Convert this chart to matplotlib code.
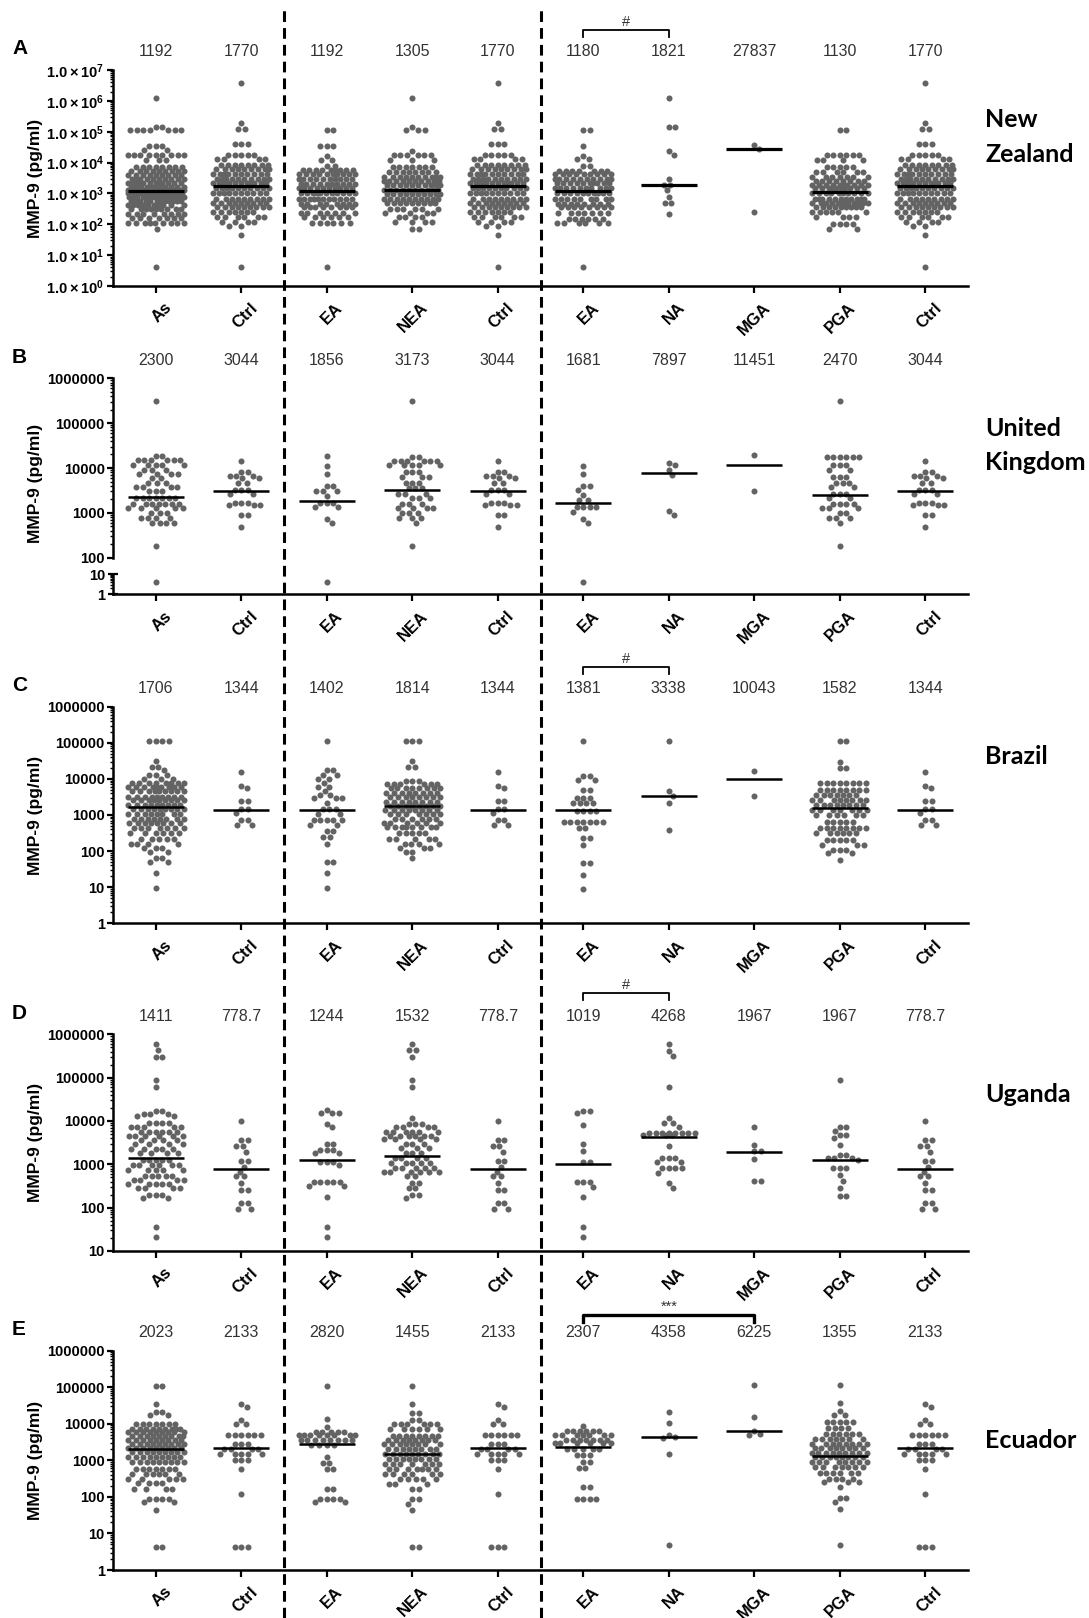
import numpy as np
import matplotlib
matplotlib.use('Agg')
import matplotlib.pyplot as plt
from matplotlib.lines import Line2D
from matplotlib import transforms as mtransforms
from matplotlib.ticker import LogLocator, NullFormatter

plt.rcParams['font.family'] = ['Liberation Sans', 'DejaVu Sans']
plt.rcParams['mathtext.fontset'] = 'custom'
plt.rcParams['mathtext.rm'] = 'Liberation Sans'
plt.rcParams['mathtext.bf'] = 'Liberation Sans:bold'

groups = ['As', 'Ctrl', 'EA', 'NEA', 'Ctrl', 'EA', 'NA', 'MGA', 'PGA', 'Ctrl']

# --- A: New Zealand
nz_as = [(1.2e6, 1), (1.38e5, 2), (1.12e5, 7), (3.5e4, 3), (2.6e4, 2), (1.78e4, 9), (1.2e4, 3),
         (7100, 8), (5200, 9), (4000, 9), (3000, 10), (2250, 11), (1650, 12), (1250, 14), (1000, 16),
         (760, 14), (560, 12), (420, 10), (320, 9), (220, 8), (160, 7), (110, 9), (70, 1), (4, 1)]
nz_ctrl = [(3.7e6, 1), (1.9e5, 1), (1.26e5, 2), (4.0e4, 3), (1.78e4, 5), (1.26e4, 4), (8300, 8),
           (6000, 9), (4300, 10), (2900, 10), (2100, 11), (1450, 10), (1000, 10), (680, 9), (490, 9),
           (350, 9), (250, 7), (174, 6), (117, 4), (89, 2), (44, 1), (4.1, 1)]
nz_ea = [(1.17e5, 2), (3.5e4, 3), (1.58e4, 1), (1.2e4, 2), (7900, 2), (5600, 9), (4200, 10),
         (2900, 10), (2000, 10), (1450, 10), (1000, 11), (680, 11), (470, 8), (350, 8), (234, 7),
         (174, 6), (112, 6), (4.1, 1)]
nz_nea = [(1.2e6, 1), (1.38e5, 1), (1.12e5, 3), (2.3e4, 1), (1.78e4, 6), (1.2e4, 3), (7200, 7),
          (5000, 8), (3500, 10), (2500, 10), (1860, 10), (1320, 10), (930, 10), (680, 10), (490, 9),
          (320, 6), (234, 4), (174, 4), (117, 4), (72, 2)]
nz_ea2 = [(1.17e5, 2), (3.4e4, 1), (1.58e4, 1), (1.26e4, 2), (7600, 2), (5400, 7), (4200, 9),
          (3000, 10), (2100, 10), (1550, 10), (1000, 10), (680, 9), (470, 8), (350, 8), (234, 7),
          (151, 6), (110, 6), (4.1, 1)]
nz_na = [(1.2e6, 1), (1.38e5, 2), (2.4e4, 1), (1.75e4, 1), (3000, 1), (1900, 2), (1250, 1),
         (780, 1), (500, 2), (210, 1)]
nz_mga = [(3.8e4, 1), (2.8e4, 1), (250, 1)]
nz_pga = [(1.12e5, 2), (1.78e4, 6), (1.2e4, 4), (7200, 5), (5000, 6), (3500, 7), (2500, 8),
          (1860, 10), (1450, 10), (1000, 10), (680, 11), (490, 11), (350, 9), (250, 6), (174, 4),
          (105, 4), (72, 2)]

# --- B: United Kingdom
uk_as = [(3.1e5, 1), (1.86e4, 2), (1.5e4, 6), (1.17e4, 5), (9100, 3), (7400, 4), (5900, 2),
         (4600, 3), (3700, 4), (3000, 3), (2100, 7), (1600, 7), (1260, 5), (1000, 3), (760, 4),
         (590, 4), (180, 1), (4, 1)]
uk_ctrl = [(1.45e4, 1), (8300, 2), (6800, 3), (5900, 2), (4700, 2), (3300, 3), (2700, 2),
           (1700, 3), (1480, 3), (900, 2), (490, 1)]
uk_ea = [(1.86e4, 1), (1.1e4, 1), (7400, 1), (4000, 2), (3100, 3), (2400, 1), (1700, 3),
         (1380, 2), (720, 1), (590, 1), (4, 1)]
uk_nea = [(3.1e5, 1), (1.78e4, 2), (1.45e4, 6), (1.17e4, 5), (8300, 3), (6300, 3), (4700, 3),
          (3500, 3), (2700, 3), (2100, 3), (1600, 3), (1260, 4), (1000, 3), (760, 3), (590, 1),
          (180, 1)]
uk_ea2 = [(1.1e4, 1), (7400, 1), (4000, 2), (3200, 1), (2500, 1), (1950, 2), (1380, 4),
          (1070, 1), (720, 1), (590, 1), (4, 1)]
uk_na = [(1.32e4, 1), (1.17e4, 1), (9100, 1), (6900, 1), (1100, 1), (890, 1)]
uk_mga = [(1.9e4, 1), (3000, 1)]
uk_pga = [(3.1e5, 1), (1.78e4, 6), (1.17e4, 3), (9100, 2), (6300, 3), (4700, 3), (3800, 2),
          (2700, 3), (2100, 2), (1600, 4), (1260, 3), (980, 2), (760, 3), (590, 1), (180, 1)]

# --- C: Brazil
br_as = [(1.15e5, 4), (3.2e4, 1), (2.2e4, 2), (1.78e4, 1), (1.26e4, 3), (1.0e4, 3), (7600, 8),
         (5800, 9), (4500, 9), (3200, 9), (2600, 9), (1950, 9), (1450, 9), (1070, 8), (760, 8),
         (590, 8), (430, 7), (310, 6), (220, 5), (160, 4), (120, 3), (95, 2), (63, 2), (51, 2),
         (24, 1), (9.8, 1)]
br_ctrl = [(1.58e4, 1), (6300, 1), (5500, 1), (2500, 2), (1500, 2), (1150, 1), (720, 2), (525, 2)]
br_ea = [(1.15e5, 1), (1.78e4, 2), (1.26e4, 2), (1.0e4, 2), (7600, 1), (6000, 2), (4500, 1),
         (3500, 2), (3000, 3), (2100, 1), (1450, 3), (1070, 2), (720, 5), (525, 2), (360, 2),
         (250, 2), (160, 1), (51, 2), (24, 1), (9.8, 1)]
br_nea = [(1.15e5, 3), (3.2e4, 1), (2.2e4, 2), (8900, 3), (7200, 6), (5500, 8), (4200, 8),
          (3100, 8), (2300, 8), (1800, 8), (1380, 8), (1070, 7), (760, 6), (590, 6), (480, 8),
          (310, 5), (220, 5), (160, 4), (120, 3), (95, 2), (63, 1)]
br_ea2 = [(1.1e5, 1), (1.17e4, 2), (9300, 2), (5000, 2), (3000, 3), (2100, 4), (1260, 4),
          (630, 7), (430, 2), (230, 2), (150, 1), (46, 2), (22, 1), (8.9, 1)]
br_na = [(1.1e5, 1), (4500, 1), (3300, 1), (2100, 1), (390, 1)]
br_mga = [(1.65e4, 1), (3400, 1)]
br_pga = [(1.1e5, 2), (3.0e4, 1), (2.0e4, 2), (7600, 8), (5000, 8), (3600, 7), (2600, 8),
          (1900, 8), (1380, 7), (1000, 6), (660, 5), (430, 8), (320, 6), (200, 5), (150, 3),
          (107, 3), (87, 2), (58, 1)]

# --- D: Uganda
ug_as = [(5.9e5, 1), (4.3e5, 1), (3.0e5, 2), (8.9e4, 1), (6.2e4, 1), (1.74e4, 2), (1.45e4, 3),
         (1.32e4, 2), (8900, 4), (7400, 5), (5600, 6), (4600, 6), (3600, 4), (2950, 4), (2300, 5),
         (1780, 4), (1260, 5), (950, 6), (740, 5), (540, 5), (440, 4), (360, 5), (280, 4),
         (195, 3), (170, 2), (35, 1), (21, 1)]
ug_ctrl = [(1.0e4, 1), (3600, 2), (2600, 2), (1950, 1), (1200, 2), (890, 1), (680, 1), (525, 2),
           (380, 1), (257, 2), (126, 2), (95, 2)]
ug_ea = [(1.78e4, 1), (1.51e4, 3), (8500, 1), (7200, 1), (3000, 2), (2100, 3), (1780, 2),
         (1150, 3), (950, 1), (400, 5), (316, 2), (174, 1), (35, 1), (21, 1)]
ug_nea = [(5.9e5, 1), (4.4e5, 2), (3.0e5, 1), (8.9e4, 1), (6.2e4, 1), (1.15e4, 1), (8500, 3),
          (7400, 4), (5600, 6), (4600, 6), (3800, 4), (2950, 3), (2350, 3), (1780, 3), (1380, 4),
          (1050, 5), (810, 5), (680, 6), (525, 2), (380, 2), (280, 2), (195, 2), (170, 1)]
ug_ea2 = [(1.74e4, 2), (1.55e4, 1), (8100, 1), (3000, 1), (2050, 1), (1120, 2), (400, 3),
          (300, 1), (174, 1), (35, 1), (21, 1)]
ug_na = [(5.9e5, 1), (4.2e5, 1), (3.2e5, 1), (6.2e4, 1), (1.15e4, 1), (8900, 2), (7400, 1),
         (5400, 8), (4800, 3), (2600, 1), (1380, 3), (1150, 2), (810, 4), (620, 1), (363, 1),
         (282, 1)]
ug_mga = [(7100, 1), (2800, 1), (2000, 2), (1320, 1), (417, 2)]
ug_pga = [(8.9e4, 1), (7400, 2), (6000, 1), (4800, 2), (4000, 1), (2800, 1), (1660, 2),
          (1380, 3), (1260, 1), (810, 3), (560, 1), (417, 1), (282, 1), (186, 2)]

# --- E: Ecuador
ec_as = [(1.07e5, 2), (3.4e4, 1), (2.1e4, 2), (1.7e4, 2), (1.0e4, 7), (7400, 9), (6000, 9),
         (4600, 9), (3500, 9), (2750, 9), (2200, 9), (1700, 9), (1230, 9), (890, 9), (590, 7),
         (427, 6), (309, 5), (234, 4), (166, 4), (87, 4), (71, 2), (44, 1), (4.3, 2)]
ec_ctrl = [(3.4e4, 1), (2.9e4, 1), (1.3e4, 1), (1.0e4, 2), (4800, 6), (2800, 3), (2050, 4),
           (1500, 5), (1000, 3), (590, 1), (120, 1), (4.3, 3)]
ec_ea = [(1.07e5, 1), (1.35e4, 1), (8100, 1), (6000, 5), (4800, 8), (3500, 8), (2600, 4),
         (1230, 1), (850, 2), (590, 2), (166, 2), (87, 4), (71, 2)]
ec_nea = [(1.07e5, 1), (3.4e4, 1), (2.0e4, 2), (1.29e4, 2), (1.0e4, 6), (7400, 6), (4600, 8),
          (3500, 8), (2750, 8), (2100, 8), (1500, 9), (1100, 8), (790, 7), (590, 7), (427, 6),
          (309, 5), (229, 3), (166, 2), (87, 2), (63, 1), (44, 1), (4.3, 2)]
ec_ea2 = [(8900, 1), (6200, 6), (4800, 7), (3500, 7), (3000, 6), (2100, 5), (1400, 3),
          (910, 2), (620, 2), (182, 2), (87, 4)]
ec_na = [(2.1e4, 1), (1.07e4, 1), (4900, 1), (4358, 1), (4100, 1), (1480, 1), (4.7, 1)]
ec_mga = [(1.17e5, 1), (1.5e4, 1), (6225, 1), (5100, 1), (4900, 1)]
ec_pga = [(1.17e5, 1), (3.8e4, 1), (2.2e4, 1), (1.78e4, 2), (1.12e4, 5), (7600, 4), (5200, 6),
          (3900, 7), (2800, 8), (2140, 8), (1600, 9), (1200, 8), (890, 8), (650, 7), (447, 6),
          (309, 4), (251, 3), (182, 1), (91, 2), (71, 1), (48, 1), (4.7, 1)]

# medians printed above each column, and the level of the drawn median bar
nz_med = ['1192', '1770', '1192', '1305', '1770', '1180', '1821', '27837', '1130', '1770']
uk_med = ['2300', '3044', '1856', '3173', '3044', '1681', '7897', '11451', '2470', '3044']
br_med = ['1706', '1344', '1402', '1814', '1344', '1381', '3338', '10043', '1582', '1344']
ug_med = ['1411', '778.7', '1244', '1532', '778.7', '1019', '4268', '1967', '1967', '778.7']
ec_med = ['2023', '2133', '2820', '1455', '2133', '2307', '4358', '6225', '1355', '2133']
ug_bar = [1411, 778.7, 1244, 1532, 778.7, 1019, 4268, 1967, 1260, 778.7]

FIG_W, FIG_H = 1089, 1618
DOT = '#636363'

fig = plt.figure(figsize=(FIG_W / 100, FIG_H / 100), dpi=100)


def box(top, bottom):
    return [113 / FIG_W, 1 - bottom / FIG_H, 855 / FIG_W, (bottom - top) / FIG_H]


def expand(rows):
    return np.repeat([v for v, n in rows], [n for v, n in rows]).astype(float)


def swarm(vals, ppd, ppu, dot=6.3, half=28.0):
    # simple beeswarm in pixel space
    ys = np.log10(vals) * ppd
    steps = np.arange(0.5, half + 0.01, 0.5)
    cands = np.concatenate([[0.0], np.column_stack([steps, -steps]).ravel()])
    xs = np.zeros(len(vals))
    px, py = [], []
    for i in np.argsort(-ys, kind='stable'):
        if px:
            dx = cands[:, None] - np.array(px)[None, :]
            dy = (np.array(py) - ys[i])[None, :]
            dmin = np.hypot(dx, dy).min(axis=1)
            ok = np.nonzero(dmin >= dot)[0]
            xs[i] = cands[ok[0]] if len(ok) else cands[np.argmax(dmin)]
        px.append(xs[i])
        py.append(ys[i])
    return xs / ppu


def scales(ax):
    pos = ax.get_position()
    lo, hi = np.log10(ax.get_ylim())
    return pos.height * FIG_H / (hi - lo), pos.width * FIG_W / 10.0


def style(ax, ylim, ticks, labels, xaxis=True):
    ax.set_yscale('log')
    ax.set_xlim(-0.5, 9.5)
    ax.set_ylim(*ylim)
    ax.spines[['top', 'right']].set_visible(False)
    ax.spines['left'].set_linewidth(1.8)
    ax.spines['bottom'].set_linewidth(1.8)
    ax.set_yticks(ticks, labels, fontsize=10.5, fontweight='bold')
    ax.yaxis.set_minor_locator(LogLocator(base=10, subs=np.arange(2, 10), numticks=30))
    ax.yaxis.set_minor_formatter(NullFormatter())
    ax.tick_params(axis='y', which='major', length=4, width=1.6, pad=2)
    ax.tick_params(axis='y', which='minor', length=2.5, width=1.0)
    if xaxis:
        ax.set_xticks(range(10), groups, rotation=45, ha='right', rotation_mode='anchor',
                      fontsize=12, fontweight='bold')
        ax.tick_params(axis='x', length=5, width=1.6, pad=5)
        shift = mtransforms.ScaledTranslation(6 / 72, 0, fig.dpi_scale_trans)
        for lab in ax.get_xticklabels():
            lab.set_transform(lab.get_transform() + shift)
    else:
        ax.spines['bottom'].set_visible(False)
        ax.set_xticks([])


def dots(ax, cols, keep=lambda v: v > 0):
    ppd, ppu = scales(ax)
    for i, rows in enumerate(cols):
        vals = expand(rows)
        vals = vals[keep(vals)]
        if len(vals) == 0:
            continue
        xs = swarm(vals, ppd, ppu)
        ax.scatter(i + xs, vals, s=19, color=DOT, linewidths=0, zorder=3)


def bars(ax, levels, lw):
    for i, m in enumerate(levels):
        ax.plot([i - 0.33, i + 0.33], [m, m], color='black', lw=lw, solid_capstyle='butt', zorder=4)


def header(ax, meds, letter, country, cy, bracket=None):
    top = ax.get_position().y1
    tr = mtransforms.blended_transform_factory(ax.transData, fig.transFigure)
    for i, t in enumerate(meds):
        fig.text(i, top + 18 / FIG_H, t, transform=tr, ha='center', va='center',
                 fontsize=11.5, color='#333333')
    fig.text(12 / FIG_W, top + 21 / FIG_H, letter, ha='left', va='center',
             fontsize=15, fontweight='bold')
    fig.text(985 / FIG_W, 1 - cy / FIG_H, country, ha='left', va='center',
             fontsize=18, fontweight='bold', family=['Lato', 'DejaVu Sans'], linespacing=1.6)
    if bracket:
        a, b, mark, lw, gap = bracket
        yl = top + gap / FIG_H
        yd = yl - 7 / FIG_H
        fig.add_artist(Line2D([a, a, b, b], [yd, yl, yl, yd], transform=tr, color='black', lw=lw))
        fig.text((a + b) / 2, yl + 8 / FIG_H, mark, transform=tr, ha='center', va='center',
                 fontsize=10.5, color='#333333')


def ylab(ax, y=0.5):
    ax.set_ylabel('MMP-9 (pg/ml)', fontsize=12.5, fontweight='bold')
    ax.yaxis.set_label_coords(-0.082, y)


dec = lambda lo, hi: [10.0 ** k for k in range(lo, hi + 1)]

# ---------- A
axA = fig.add_axes(box(70, 286))
style(axA, (1, 1e7), dec(0, 7), [r'$\mathbf{1.0\times10^{%d}}$' % k for k in range(8)])
nz_cols = [nz_as, nz_ctrl, nz_ea, nz_nea, nz_ctrl, nz_ea2, nz_na, nz_mga, nz_pga, nz_ctrl]
dots(axA, nz_cols)
bars(axA, [float(m) for m in nz_med], 2.3)
ylab(axA)
header(axA, nz_med, 'A', 'New\nZealand', 137, (5, 6, '#', 1.3, 40))

# ---------- B (broken axis)
axB = fig.add_axes(box(378.3, 557.7))
axB2 = fig.add_axes(box(574.3, 594.3))
style(axB, (100, 1e6), dec(2, 6), ['100', '1000', '10000', '100000', '1000000'], xaxis=False)
style(axB2, (1, 10), [1, 10], ['1', '10'])
axB2.tick_params(axis='y', which='major', direction='inout', length=7)
uk_cols = [uk_as, uk_ctrl, uk_ea, uk_nea, uk_ctrl, uk_ea2, uk_na, uk_mga, uk_pga, uk_ctrl]
dots(axB, uk_cols, keep=lambda v: v >= 50)
dots(axB2, uk_cols, keep=lambda v: v < 50)
bars(axB, [float(m) for m in uk_med], 1.8)
ylab(axB, 0.415)
header(axB, uk_med, 'B', 'United\nKingdom', 445.5, None)

# ---------- C
axC = fig.add_axes(box(706.7, 923.3))
style(axC, (1, 1e6), dec(0, 6), ['%d' % v for v in dec(0, 6)])
br_cols = [br_as, br_ctrl, br_ea, br_nea, br_ctrl, br_ea2, br_na, br_mga, br_pga, br_ctrl]
dots(axC, br_cols)
bars(axC, [float(m) for m in br_med], 1.8)
ylab(axC)
header(axC, br_med, 'C', 'Brazil', 756.7, (5, 6, '#', 1.3, 40))

# ---------- D
axD = fig.add_axes(box(1034.3, 1251))
style(axD, (10, 1e6), dec(1, 6), ['%d' % v for v in dec(1, 6)])
ug_cols = [ug_as, ug_ctrl, ug_ea, ug_nea, ug_ctrl, ug_ea2, ug_na, ug_mga, ug_pga, ug_ctrl]
dots(axD, ug_cols)
bars(axD, ug_bar, 1.8)
ylab(axD)
header(axD, ug_med, 'D', 'Uganda', 1095, (5, 6, '#', 1.3, 41))

# ---------- E
axE = fig.add_axes(box(1350.7, 1570))
style(axE, (1, 1e6), dec(0, 6), ['%d' % v for v in dec(0, 6)])
ec_cols = [ec_as, ec_ctrl, ec_ea, ec_nea, ec_ctrl, ec_ea2, ec_na, ec_mga, ec_pga, ec_ctrl]
dots(axE, ec_cols)
bars(axE, [float(m) for m in ec_med], 1.8)
ylab(axE)
header(axE, ec_med, 'E', 'Ecuador', 1440, (5, 7, '***', 2.4, 36))

# dashed separators running down the whole figure
sep = mtransforms.blended_transform_factory(axA.transData, fig.transFigure)
for x in (1.5, 4.5):
    fig.add_artist(Line2D([x, x], [0, 0.997], transform=sep, color='black', lw=2.2,
                          linestyle=(0, (3.5, 2.0)), zorder=10))

fig.savefig('out.png', dpi=100)
